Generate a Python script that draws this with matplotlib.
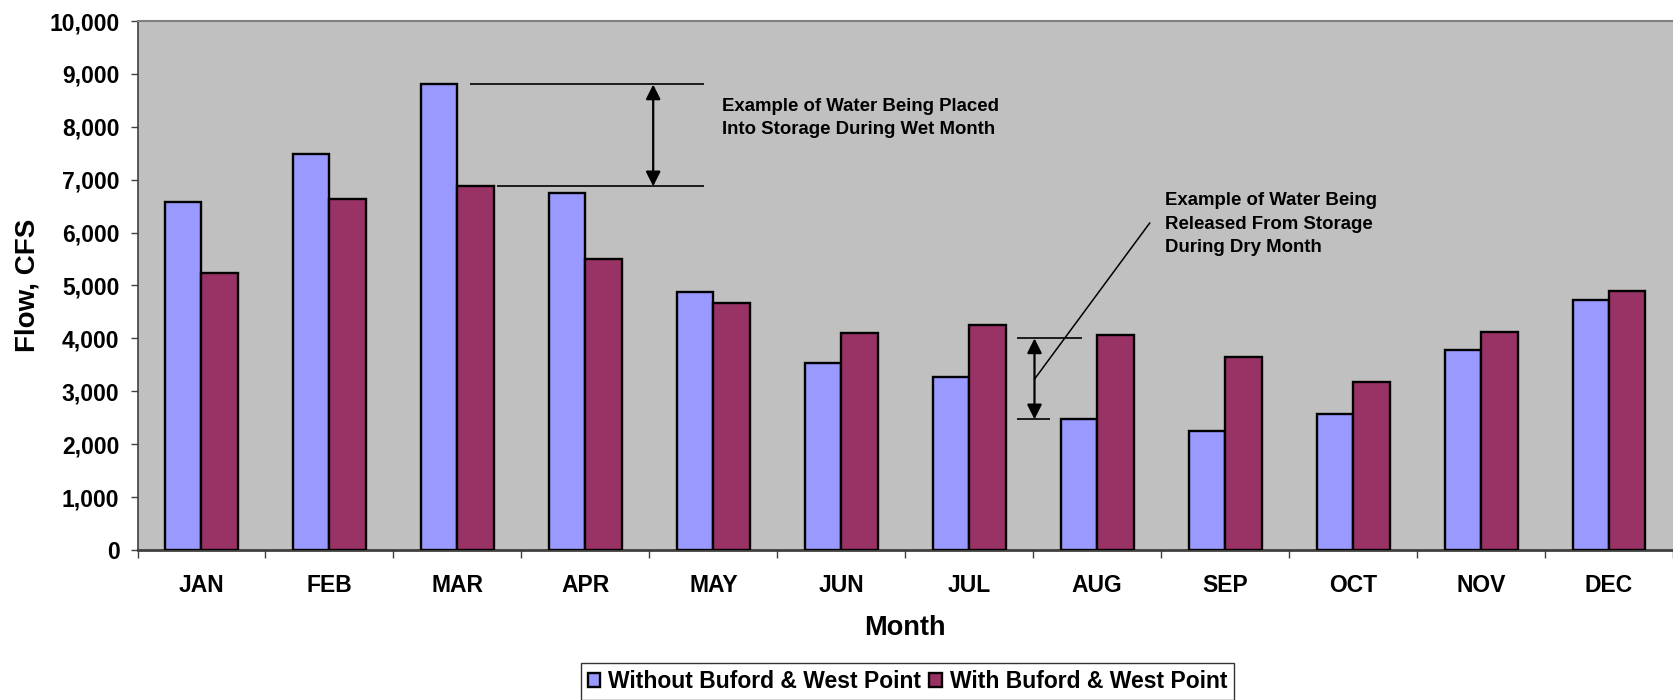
import numpy as np
import matplotlib.pyplot as plt
from matplotlib.ticker import StrMethodFormatter

plt.rcParams['font.family'] = ['Liberation Sans', 'DejaVu Sans']
plt.rcParams['font.weight'] = 'bold'

# ---- data ----
months = ['JAN', 'FEB', 'MAR', 'APR', 'MAY', 'JUN',
          'JUL', 'AUG', 'SEP', 'OCT', 'NOV', 'DEC']
without_dams = [6570, 7480, 8800, 6740, 4870, 3530, 3270, 2475, 2255, 2575, 3775, 4730]
with_dams = [5240, 6635, 6885, 5500, 4675, 4095, 4245, 4058, 3648, 3180, 4120, 4902]

label_without = 'Without Buford & West Point'
label_with = 'With Buford & West Point'

# annotation values
wet_top, wet_bottom = 8800, 6875
dry_top, dry_bottom = 4000, 2470

c_without = '#9999FF'
c_with = '#993366'

fig = plt.figure(figsize=(16.73, 7.0), dpi=100)
ax = fig.add_axes([0.0822, 0.2143, 0.9178, 0.7557])
ax.set_facecolor('#C0C0C0')

x = np.arange(len(months))
w = 0.285
ax.bar(x - w / 2, without_dams, w, color=c_without, edgecolor='black',
       linewidth=1.7, label=label_without, zorder=3)
ax.bar(x + w / 2, with_dams, w, color=c_with, edgecolor='black',
       linewidth=1.7, label=label_with, zorder=3)

ax.set_xlim(-0.5, len(months) - 0.5)
ax.set_ylim(0, 10000)
ax.set_yticks(np.arange(0, 10001, 1000))
ax.yaxis.set_major_formatter(StrMethodFormatter('{x:,.0f}'))

# category boundaries as ticks, labels in the middle
ax.set_xticks(np.arange(-0.5, len(months) + 0.5, 1))
ax.set_xticklabels([])
ax.set_xticks(x, minor=True)
ax.set_xticklabels(months, minor=True)
ax.tick_params(axis='x', which='major', length=6, width=1, color='#404040')
ax.tick_params(axis='x', which='minor', length=0, pad=17, labelsize=16.5)
ax.tick_params(axis='y', length=5, width=1, color='#404040', pad=8, labelsize=16.5)

ax.spines['top'].set_color('#808080')
ax.spines['top'].set_linewidth(1.5)
ax.spines['right'].set_visible(False)
ax.spines['left'].set_color('#404040')
ax.spines['left'].set_linewidth(1.2)
ax.spines['bottom'].set_color('#404040')
ax.spines['bottom'].set_linewidth(2)

ax.set_xlabel('Month', fontsize=19.5, fontweight='bold', labelpad=13)
ax.set_ylabel('Flow, CFS', fontsize=20, fontweight='bold', labelpad=6)

# ---- wet month annotation ----
ax.hlines(wet_top, 2.10, 3.93, color='black', lw=1.2, zorder=4)
ax.hlines(wet_bottom, 2.31, 3.93, color='black', lw=1.2, zorder=4)
ax.annotate('', xy=(3.53, wet_top), xytext=(3.53, wet_bottom),
            arrowprops=dict(arrowstyle='<|-|>', color='black', lw=1.6,
                            mutation_scale=22, shrinkA=0, shrinkB=0), zorder=4)
ax.text(4.07, 8540, 'Example of Water Being Placed\nInto Storage During Wet Month',
        fontsize=13.4, fontweight='bold', va='top', ha='left', linespacing=1.42)

# ---- dry month annotation ----
ax.hlines(dry_top, 6.37, 6.88, color='black', lw=1.2, zorder=4)
ax.hlines(dry_bottom, 6.37, 6.63, color='black', lw=1.2, zorder=4)
ax.annotate('', xy=(6.51, dry_top), xytext=(6.51, dry_bottom),
            arrowprops=dict(arrowstyle='<|-|>', color='black', lw=1.6,
                            mutation_scale=22, shrinkA=0, shrinkB=0), zorder=4)
ax.plot([6.51, 7.41], [3230, 6180], color='black', lw=1.1, zorder=4)
ax.text(7.53, 6760, 'Example of Water Being\nReleased From Storage\nDuring Dry Month',
        fontsize=13.4, fontweight='bold', va='top', ha='left', linespacing=1.5)

leg = fig.legend(loc='lower center', bbox_to_anchor=(0.5425, 0.0), ncol=2,
                 fontsize=16.5, frameon=True, fancybox=False, edgecolor='black',
                 handlelength=0.55, handleheight=0.55, handletextpad=0.35,
                 columnspacing=0.35, borderpad=0.3, borderaxespad=0.0)
leg.get_frame().set_linewidth(1.0)

fig.savefig('out.png', dpi=100)
